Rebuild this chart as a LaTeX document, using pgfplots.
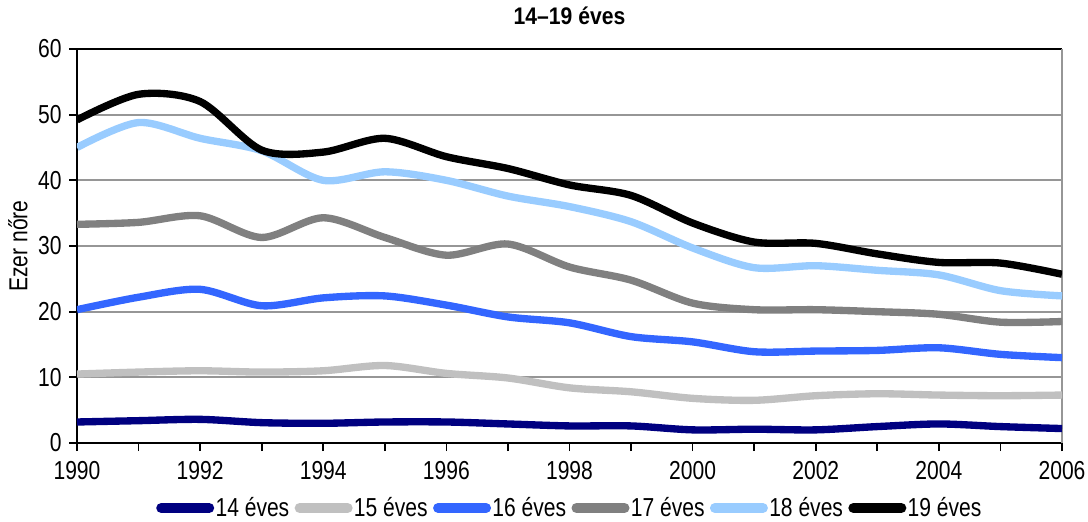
\documentclass[border=0pt]{standalone}
\usepackage{fontspec}
\setmainfont{Liberation Sans}[FakeStretch=0.81]
\newfontfamily\titlefont{Liberation Sans}[FakeStretch=0.88]
\usepackage{pgfplots}
\pgfplotsset{compat=1.18}
\usepackage{pgfplotstable}

\definecolor{c14}{RGB}{0,0,128}
\definecolor{c15}{RGB}{192,192,192}
\definecolor{c16}{RGB}{51,102,255}
\definecolor{c17}{RGB}{128,128,128}
\definecolor{c18}{RGB}{153,204,255}
\definecolor{c19}{RGB}{0,0,0}
\definecolor{gridgray}{RGB}{150,150,150}

% births per thousand women, by age
\pgfplotstableread{
year a14 a15 a16 a17 a18 a19
1990 3.2 10.5 20.3 33.3 45.0 49.2
1991 3.4 10.8 22.2 33.6 48.8 53.1
1992 3.6 11.0 23.4 34.6 46.4 52.0
1993 3.1 10.8 20.9 31.3 44.5 44.6
1994 3.0 11.0 22.1 34.3 40.0 44.3
1995 3.2 11.8 22.4 31.3 41.3 46.4
1996 3.2 10.6 21.0 28.6 40.0 43.6
1997 2.9 9.9 19.2 30.3 37.6 41.8
1998 2.6 8.4 18.3 26.8 36.0 39.3
1999 2.6 7.8 16.2 24.8 33.7 37.7
2000 2.0 6.8 15.4 21.3 29.7 33.5
2001 2.1 6.5 13.9 20.3 26.7 30.6
2002 2.0 7.2 14.0 20.3 27.0 30.4
2003 2.5 7.5 14.1 20.0 26.3 28.8
2004 2.9 7.3 14.5 19.6 25.6 27.5
2005 2.5 7.2 13.5 18.4 23.2 27.4
2006 2.2 7.3 13.0 18.5 22.4 25.7
}\births

\begin{document}
\begin{tikzpicture}
\begin{axis}[
  name=ax,
  scale only axis,
  width=738.75pt, height=295.5pt,
  xmin=1990, xmax=2006, ymin=0, ymax=60,
  axis x line*=box, axis y line*=left,
  xtick pos=bottom,
  xtick={1990,1992,...,2006},
  minor xtick={1991,1993,...,2005},
  extra x ticks={2006},
  extra x tick labels={},
  extra x tick style={xmajorgrids=true, major grid style={gridgray, line width=1.5pt}},
  ytick={0,10,...,60},
  tick align=outside,
  major tick length=6pt, minor tick length=6pt,
  every tick/.style={black, line width=1.3pt},
  axis line style={black, line width=1.8pt},
  ymajorgrids,
  major grid style={gridgray, line width=1.5pt},
  /pgf/number format/assume math mode=true,
  x tick label style={/pgf/number format/1000 sep={}, yshift=-4pt},
  y tick label style={xshift=-2pt},
  tick label style={font=\fontsize{19.5}{22}\selectfont},
  ylabel={Ezer nőre},
  ylabel style={font=\fontsize{19.5}{22}\selectfont,
    at={(axis description cs:-0.0599,0.5)}, anchor=center},
  title={\titlefont\bfseries 14–19 éves},
  title style={font=\fontsize{18}{20}\selectfont,
    at={(axis description cs:0.5,1)}, anchor=center, yshift=19pt},
  legend columns=6,
  legend style={at={(axis description cs:0.5,-0.165)}, anchor=center, draw=none,
    font=\fontsize{19.5}{22}\selectfont, inner sep=0pt,
    nodes={inner xsep=1pt},
    /tikz/every even column/.append style={column sep=3pt}},
  legend image code/.code={\draw[#1, line width=7.5pt, line cap=round] (0pt,0pt) -- (36pt,0pt);},
  every axis plot/.append style={line width=5.5pt, smooth, no markers},
]
\addplot[c14] table[x=year, y=a14] {\births};
\addplot[c15] table[x=year, y=a15] {\births};
\addplot[c16] table[x=year, y=a16] {\births};
\addplot[c17] table[x=year, y=a17] {\births};
\addplot[c18] table[x=year, y=a18] {\births};
\addplot[c19] table[x=year, y=a19] {\births};
\legend{14 éves, 15 éves, 16 éves, 17 éves, 18 éves, 19 éves}
\end{axis}
\pgfresetboundingbox
\path[use as bounding box] ([shift={(-57.75pt,-58.5pt)}]ax.south west) rectangle ([shift={(19.5pt,36.75pt)}]ax.north east);
\end{tikzpicture}
\end{document}
